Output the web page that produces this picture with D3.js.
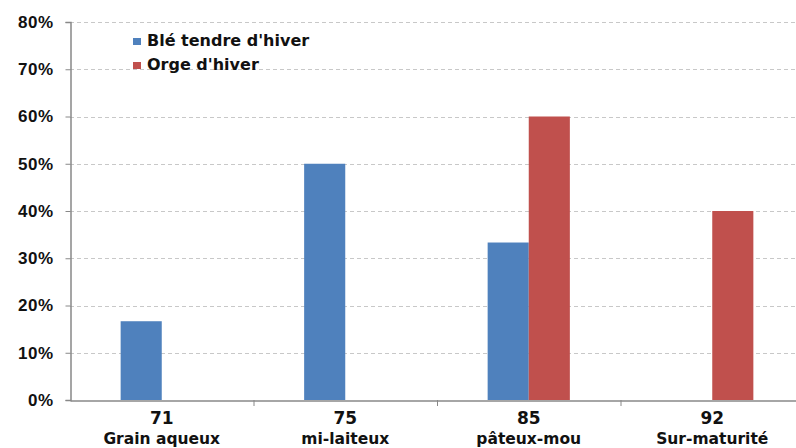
<!DOCTYPE html>
<html lang="fr">
<head>
<meta charset="UTF-8">
<title>Stades de maturité</title>
<script src="https://d3js.org/d3.v7.min.js"></script>
<style>
  body { margin: 0; background: #fff; }
  svg { display: block; font-family: "DejaVu Sans", Verdana, sans-serif; font-weight: bold; }
</style>
</head>
<body>
<div id="chart"></div>
<script>
// données
const codes = ["71", "75", "85", "92"];
const stades = ["Grain aqueux", "mi-laiteux", "pâteux-mou", "Sur-maturité"];
const series = ["Blé tendre d'hiver", "Orge d'hiver"];
const ble = [0.1667, 0.5, 0.3333, 0];
const orge = [0, 0, 0.6, 0.4];
const yTicks = [0, 0.1, 0.2, 0.3, 0.4, 0.5, 0.6, 0.7, 0.8];
const couleurs = ["#4f81bd", "#c0504d"];

const W = 796, H = 448;
const mLeft = 70, mRight = 804, mTop = 22, mBottom = 400;

const svg = d3.select("#chart").append("svg")
  .attr("width", W).attr("height", H);

const x = d3.scaleBand().domain(codes).range([mLeft, mRight]);
const y = d3.scaleLinear().domain([0, 0.8]).range([mBottom, mTop]);
const barW = x.bandwidth() * 0.224;
const xs = d3.scaleBand().domain(series).range([-barW, barW]);

// grille
svg.append("g").selectAll("line").data(yTicks.slice(1)).join("line")
  .attr("x1", mLeft).attr("x2", W)
  .attr("y1", d => Math.round(y(d)) + 0.5).attr("y2", d => Math.round(y(d)) + 0.5)
  .attr("stroke", "#c8c8c8").attr("stroke-dasharray", "4,3");

// barres
const data = [ble, orge];
series.forEach((s, i) => {
  svg.append("g").selectAll("rect").data(codes).join("rect")
    .attr("x", (c) => x(c) + x.bandwidth() / 2 + xs(s))
    .attr("width", xs.bandwidth())
    .attr("y", (c, j) => y(data[i][j]))
    .attr("height", (c, j) => mBottom - y(data[i][j]))
    .attr("fill", couleurs[i]);
});

// axe Y
const yAxis = svg.append("g")
  .attr("transform", `translate(${mLeft + 0.5},0)`)
  .call(d3.axisLeft(y).tickValues(yTicks).tickFormat(d3.format(".0%")).tickSize(5).tickPadding(12));
yAxis.select(".domain").attr("stroke", "#888").attr("stroke-width", 1.5);
yAxis.selectAll(".tick line").attr("stroke", "#888");
yAxis.selectAll("text").attr("font-size", 17).attr("fill", "#111")
  .attr("letter-spacing", 0.5).style("font-weight", "bold");

// axe X
const xAxis = svg.append("g")
  .attr("transform", `translate(0,${mBottom + 0.5})`)
  .call(d3.axisBottom(x).tickSize(0).tickFormat(""));
xAxis.select(".domain").attr("stroke", "#888").attr("stroke-width", 1.5);
xAxis.selectAll(".tick").remove();

svg.append("g").selectAll("line").data(codes.slice(1)).join("line")
  .attr("x1", d => x(d) + 0.5).attr("x2", d => x(d) + 0.5)
  .attr("y1", mBottom).attr("y2", mBottom + 6)
  .attr("stroke", "#888");

const lab = svg.append("g").selectAll("g").data(codes).join("g")
  .attr("transform", d => `translate(${x(d) + x.bandwidth() / 2},0)`)
  .attr("text-anchor", "middle").attr("fill", "#111");
lab.append("text").attr("y", 424).attr("font-size", 17).text(d => d);
lab.append("text").attr("y", 444).attr("font-size", 15.5).text((d, i) => stades[i]);

// légende
const leg = svg.append("g").selectAll("g").data(series).join("g")
  .attr("transform", (d, i) => `translate(133,${46 + i * 24})`);
leg.append("rect").attr("x", 0).attr("y", -8).attr("width", 8).attr("height", 7)
  .attr("fill", (d, i) => couleurs[i]);
leg.append("text").attr("x", 14).attr("y", 0).attr("font-size", 16).attr("fill", "#111").text(d => d);
</script>
</body>
</html>
